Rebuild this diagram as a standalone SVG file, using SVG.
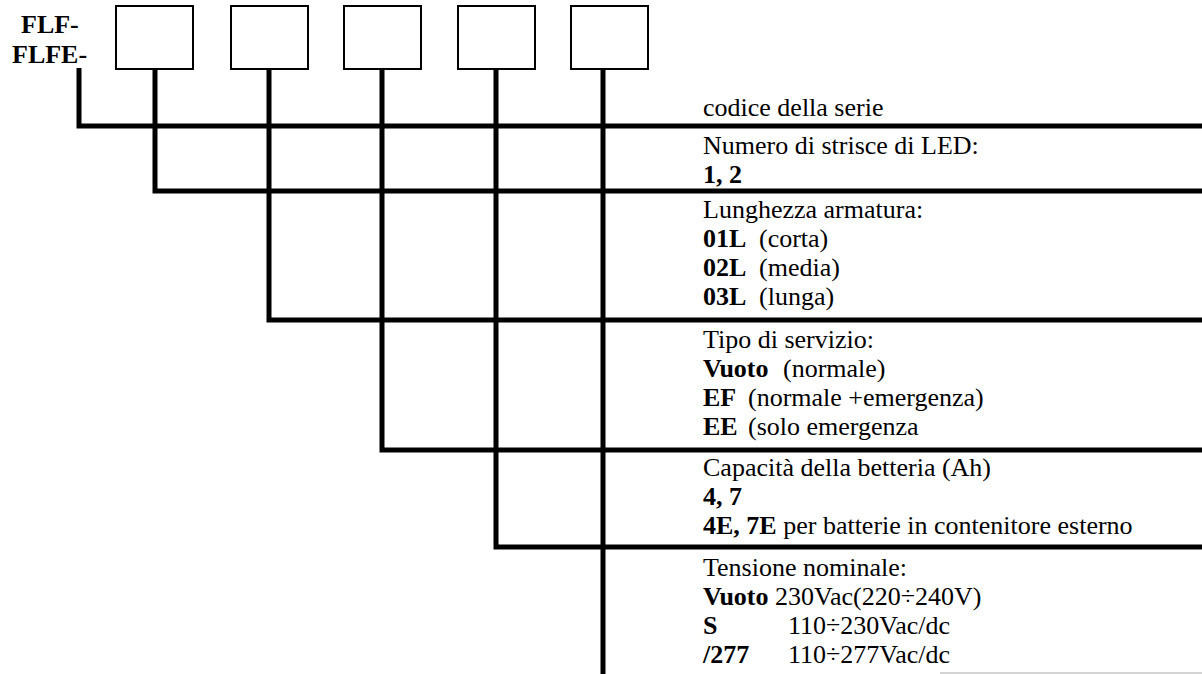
<svg xmlns="http://www.w3.org/2000/svg" width="1202" height="674" viewBox="0 0 1202 674">
<style>
text{font-family:"Liberation Serif","Times New Roman",serif;font-size:26px;fill:#000}
.b{font-weight:bold}
.box{fill:#fff;stroke:#000;stroke-width:2}
.ln{fill:none;stroke:#000;stroke-width:5;stroke-linejoin:miter;stroke-linecap:butt}
</style>
<rect width="1202" height="674" fill="#fff"/>
<g id="prefix">
<text class="b" x="21" y="33">FLF-</text>
<text class="b" x="12" y="63">FLFE-</text>
</g>
<g id="box1"><rect class="box" x="116" y="6" width="77" height="63"/></g>
<g id="box2"><rect class="box" x="231" y="6" width="77" height="63"/></g>
<g id="box3"><rect class="box" x="344" y="6" width="77" height="63"/></g>
<g id="box4"><rect class="box" x="458" y="6" width="77" height="63"/></g>
<g id="box5"><rect class="box" x="571" y="6" width="77" height="63"/></g>
<g id="connectors">
<path class="ln" d="M79 68V126H1202"/>
<path class="ln" d="M155 69V191H1202"/>
<path class="ln" d="M269 69V320H1202"/>
<path class="ln" d="M382 69V450H1202"/>
<path class="ln" d="M496 69V547H1202"/>
<path class="ln" d="M603 69V674"/>
<path d="M940 673H1202" stroke="#aaa" stroke-width="1" fill="none"/>
</g>
<g id="sec0"><text x="703" y="116">codice della serie</text></g>
<g id="sec1">
<text x="703" y="154">Numero di strisce di LED:</text>
<text class="b" x="703" y="183">1, 2</text>
</g>
<g id="sec2">
<text x="703" y="218">Lunghezza armatura:</text>
<text x="703" y="247"><tspan class="b">01L</tspan><tspan x="759">(corta)</tspan></text>
<text x="703" y="276"><tspan class="b">02L</tspan><tspan x="759">(media)</tspan></text>
<text x="703" y="305"><tspan class="b">03L</tspan><tspan x="759">(lunga)</tspan></text>
</g>
<g id="sec3">
<text x="703" y="348">Tipo di servizio:</text>
<text x="703" y="377"><tspan class="b">Vuoto</tspan><tspan x="783">(normale)</tspan></text>
<text x="703" y="406"><tspan class="b">EF</tspan><tspan x="748">(normale +emergenza)</tspan></text>
<text x="703" y="435"><tspan class="b">EE</tspan><tspan x="748">(solo emergenza</tspan></text>
</g>
<g id="sec4">
<text x="703" y="476">Capacità della betteria (Ah)</text>
<text class="b" x="703" y="505">4, 7</text>
<text x="703" y="534"><tspan class="b">4E, 7E</tspan> per batterie in contenitore esterno</text>
</g>
<g id="sec5">
<text x="703" y="576">Tensione nominale:</text>
<text x="703" y="605"><tspan class="b">Vuoto</tspan> 230Vac(220÷240V)</text>
<text x="703" y="634"><tspan class="b">S</tspan><tspan x="788">110÷230Vac/dc</tspan></text>
<text x="703" y="663"><tspan class="b">/277</tspan><tspan x="788">110÷277Vac/dc</tspan></text>
</g>
</svg>
